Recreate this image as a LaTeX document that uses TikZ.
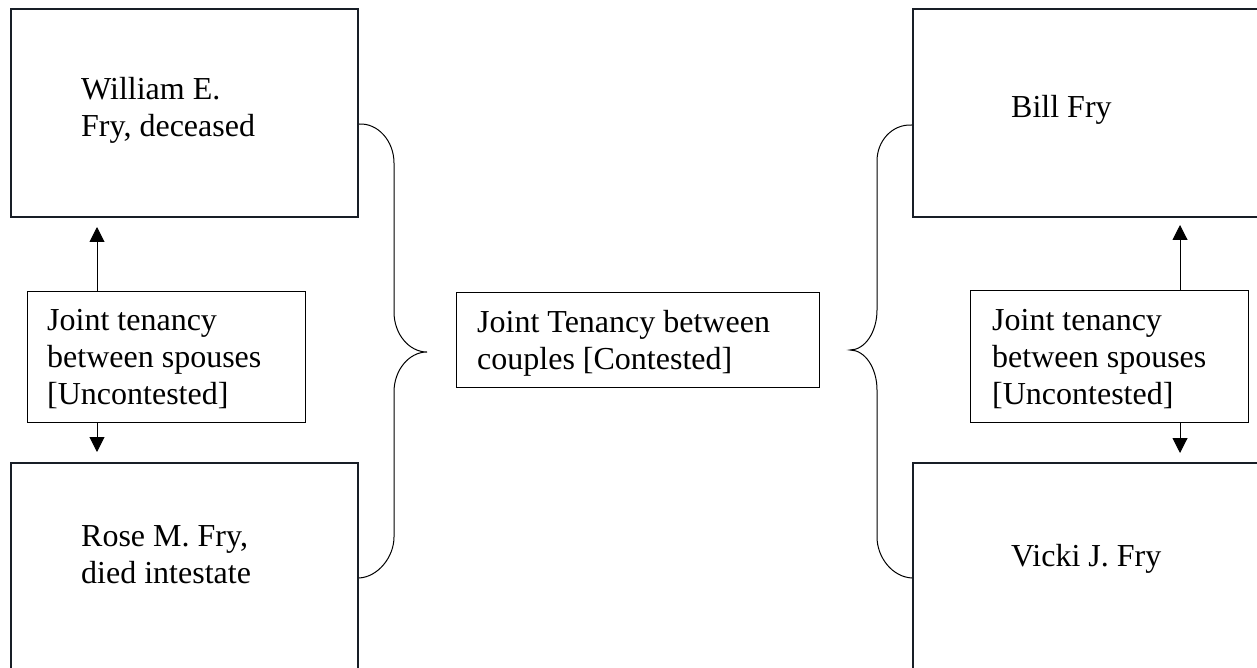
\documentclass[tikz,border=0pt]{standalone}
\usepackage{fontspec}
\setmainfont{Liberation Serif}
\usetikzlibrary{arrows.meta}
\definecolor{boxline}{RGB}{24,30,38}
\newcommand\txtlines[1]{\begin{tabular}[t]{@{}l@{}}#1\end{tabular}}
\begin{document}
\begin{tikzpicture}[x=1pt,y=-1pt,
  person/.style={draw=boxline, line width=2pt, rectangle, anchor=north west,
    minimum width=347pt, minimum height=208pt, inner sep=0pt},
  tenancy/.style={draw=black, line width=1.2pt, rectangle, anchor=north west, inner sep=0pt},
  txt/.style={font=\fontsize{32}{37}\selectfont, inner sep=0pt, anchor=base west},
  arr/.style={line width=1pt, -{Triangle[width=15pt,length=15pt]}},
  brace/.style={line width=1pt}
]
\useasboundingbox (0,0) rectangle (1257,668);
\clip (0,0) rectangle (1257,668);

% persons
\node[person] (ltop) at (10,8) {};
\node[person] (lbot) at (10,462) {};
\node[person] (rtop) at (912,8) {};
\node[person] (rbot) at (912,462) {};

\node[txt] (ltopt) at (81,100) {\txtlines{William E.\\Fry, deceased}};
\node[txt] (lbott) at (81,546) {\txtlines{Rose M. Fry,\\died intestate}};
\node[txt] (rtopt) at (1011,118) {Bill Fry};
\node[txt] (rbott) at (1011,566) {Vicki J. Fry};

% tenancy boxes
\node[tenancy, minimum width=278pt, minimum height=131pt] (lmid) at (27,291) {};
\node[tenancy, minimum width=278pt, minimum height=132pt] (rmid) at (970,290) {};
\node[tenancy, minimum width=363pt, minimum height=95pt] (cmid) at (456,292) {};

\node[txt] (lmidt) at (47,330) {\txtlines{Joint tenancy\\between spouses\\{[Uncontested]}}};
\node[txt] (rmidt) at (992,330) {\txtlines{Joint tenancy\\between spouses\\{[Uncontested]}}};
\node[txt] (cmidt) at (477,332) {\txtlines{Joint Tenancy between\\couples [Contested]}};

% spouse arrows
\coordinate (lx) at (97,0);
\coordinate (rx) at (1180,0);
\draw[arr, shorten >=9pt] (lmid.north -| lx) -- (ltop.south -| lx);
\draw[arr, shorten >=10pt] (lmid.south -| lx) -- (lbot.north -| lx);
\draw[arr, shorten >=7pt] (rmid.north -| rx) -- (rtop.south -| rx);
\draw[arr, shorten >=9pt] (rmid.south -| rx) -- (rbot.north -| rx);

% braces joining the couples
\coordinate (ltip) at (427,352);
\coordinate (rtip) at (850,350);
\draw[brace] ([yshift=-11pt]ltop.east) .. controls (378,123) and (394,141) .. (394,163)
  -- (394,312) .. controls (394,334) and (409,352) .. (ltip)
  .. controls (409,352) and (394,370) .. (394,392)
  -- (394,537) .. controls (394,557) and (378,577) .. ([yshift=-11pt]lbot.east);
\draw[brace] ([yshift=-12pt]rtop.west) .. controls (892,124) and (877,141) .. (877,161)
  -- (877,310) .. controls (877,332) and (865,350) .. (rtip)
  .. controls (865,350) and (877,368) .. (877,390)
  -- (877,537) .. controls (877,557) and (892,577) .. ([yshift=-11pt]rbot.west);
\end{tikzpicture}
\end{document}
